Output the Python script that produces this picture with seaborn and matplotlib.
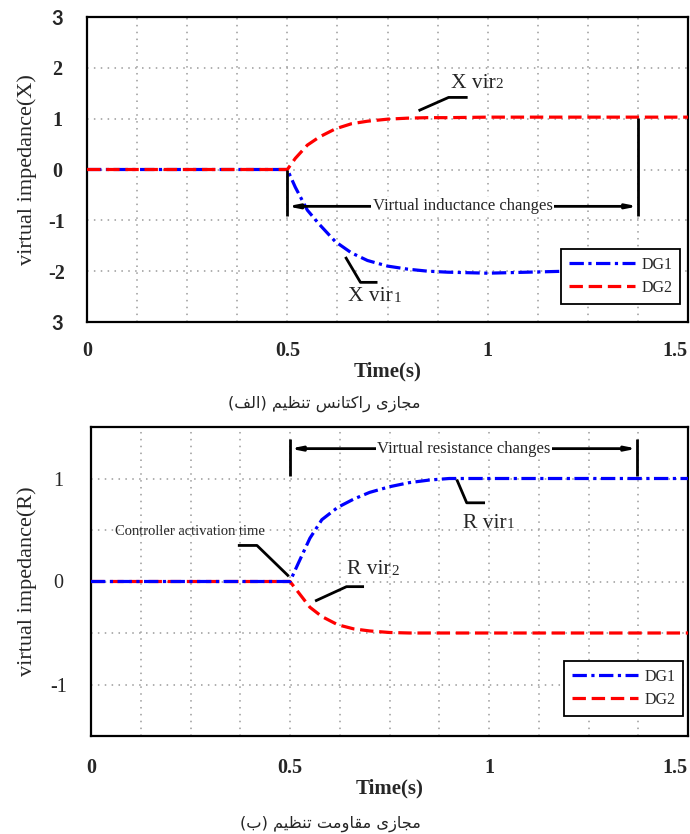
import numpy as np
import matplotlib
matplotlib.use("Agg")
import matplotlib.pyplot as plt
from matplotlib.ticker import MultipleLocator
import pandas as pd
import seaborn as sns

# ---- data -------------------------------------------------------------
time_s = [0.0, 0.5, 0.52, 0.55, 0.58, 0.62, 0.66, 0.70, 0.75, 0.80, 0.85,
          0.90, 1.0, 1.1, 1.2, 1.3, 1.4, 1.5]
# virtual reactance (DG1 trace stops behind the legend)
x_dg1 = [0, 0, -0.35, -0.80, -1.08, -1.42, -1.64, -1.79, -1.90, -1.96, -2.00,
         -2.02, -2.04, -2.02, -2.00, np.nan, np.nan, np.nan]
x_dg2 = [0, 0, 0.22, 0.48, 0.64, 0.80, 0.90, 0.95, 0.99, 1.01, 1.02,
         1.02, 1.03, 1.03, 1.03, 1.03, 1.03, 1.03]
# virtual resistance
r_dg1 = [0, 0, 0.17, 0.42, 0.60, 0.72, 0.80, 0.865, 0.92, 0.96, 0.985,
         1.0, 1.0, 1.0, 1.0, 1.0, 1.0, 1.0]
r_dg2 = [0, 0, -0.10, -0.25, -0.34, -0.42, -0.46, -0.48, -0.495, -0.50, -0.50,
         -0.50, -0.50, -0.50, -0.50, -0.50, -0.50, -0.50]

series_names = ["DG1", "DG2"]
x_ticks = [0, 0.5, 1, 1.5]
x_tick_labels = ["0", "0.5", "1", "1.5"]
x_yticks = [3, 2, 1, 0, -1, -2, -3]
x_ytick_labels = ["3", "2", "1", "0", "-1", "-2", "3"]
r_yticks = [1, 0, -1]
r_ytick_labels = ["1", "0", "-1"]
caption_a = ["(الف)", "تنظیم", "راکتانس", "مجازی"]
caption_b = ["(ب)", "تنظیم", "مقاومت", "مجازی"]

# ---- style ------------------------------------------------------------
sns.set_theme(style="white")
SERIF = ["Liberation Serif", "DejaVu Serif"]
plt.rcParams["font.family"] = SERIF
plt.rcParams["axes.edgecolor"] = "black"
plt.rcParams["axes.linewidth"] = 1.6

BLUE = "#0000FF"
RED = "#FF0000"
LW = 2.3
DASH_DG1 = (0, (4.5, 1.4, 1.0, 1.4))
DASH_DG2 = (0, (4.2, 1.8))
GRID_KW = dict(color="#9a9a9a", linestyle=(0, (1, 3.5)), linewidth=1.1)

# Arabic presentation forms: isolated, final, initial, medial
FORMS = {
    "ا": ("\uFE8D", "\uFE8E", None, None),
    "ب": ("\uFE8F", "\uFE90", "\uFE91", "\uFE92"),
    "ت": ("\uFE95", "\uFE96", "\uFE97", "\uFE98"),
    "ج": ("\uFE9D", "\uFE9E", "\uFE9F", "\uFEA0"),
    "ر": ("\uFEAD", "\uFEAE", None, None),
    "ز": ("\uFEAF", "\uFEB0", None, None),
    "س": ("\uFEB1", "\uFEB2", "\uFEB3", "\uFEB4"),
    "ظ": ("\uFEC5", "\uFEC6", "\uFEC7", "\uFEC8"),
    "ف": ("\uFED1", "\uFED2", "\uFED3", "\uFED4"),
    "ق": ("\uFED5", "\uFED6", "\uFED7", "\uFED8"),
    "ل": ("\uFEDD", "\uFEDE", "\uFEDF", "\uFEE0"),
    "م": ("\uFEE1", "\uFEE2", "\uFEE3", "\uFEE4"),
    "ن": ("\uFEE5", "\uFEE6", "\uFEE7", "\uFEE8"),
    "و": ("\uFEED", "\uFEEE", None, None),
    "ک": ("\uFB8E", "\uFB8F", "\uFB90", "\uFB91"),
    "ی": ("\uFBFC", "\uFBFD", "\uFBFE", "\uFBFF"),
}


def shape_word(word):
    """Join Persian letters and return them in left-to-right drawing order."""
    core = word.strip("()")
    glyphs = []
    for i, ch in enumerate(core):
        iso, fin, ini, med = FORMS[ch]
        joins_prev = i > 0 and FORMS[core[i - 1]][2] is not None
        joins_next = i < len(core) - 1 and ini is not None
        if joins_prev and joins_next:
            g = med
        elif joins_prev:
            g = fin
        elif joins_next:
            g = ini
        else:
            g = iso
        glyphs.append(g)
    shaped = "".join(reversed(glyphs))
    if word.startswith("("):
        shaped = "(" + shaped + ")"
    return shaped


def caption_text(words):
    return " ".join(shape_word(w) for w in words)


# ---- figure -----------------------------------------------------------
W, H = 690, 834
fig = plt.figure(figsize=(W / 100, H / 100), dpi=100)
ax1 = fig.add_axes([87 / W, 1 - 322 / H, 601 / W, 305 / H])
ax2 = fig.add_axes([91 / W, 1 - 736 / H, 597 / W, 309 / H])

df_x = pd.DataFrame({"t": time_s, "DG1": x_dg1, "DG2": x_dg2})
df_r = pd.DataFrame({"t": time_s, "DG1": r_dg1, "DG2": r_dg2})

STYLES = {"DG1": (BLUE, DASH_DG1), "DG2": (RED, DASH_DG2)}


def draw_series(ax, df, order):
    handles = {}
    for z, name in enumerate(order):
        color, dash = STYLES[name]
        sub = df[["t", name]].dropna()
        sns.lineplot(data=sub, x="t", y=name, ax=ax, color=color,
                     linestyle=dash, linewidth=LW, zorder=3 + z,
                     legend=False, sort=False)
        handles[name] = ax.get_lines()[-1]
    return [handles[n] for n in series_names]


h1 = draw_series(ax1, df_x, ["DG1", "DG2"])   # red drawn over blue
h2 = draw_series(ax2, df_r, ["DG2", "DG1"])   # blue drawn over red


def style_axes(ax, handles, yticks, ylabels, ylim, ygrid_step, ylabel, ypad,
               tick_bold, xpad, ylabel_x, xlabel_y, leg_anchor):
    ax.set_xlim(0, 1.5)
    ax.set_ylim(*ylim)
    ax.set_xticks(x_ticks)
    xt = ax.set_xticklabels(x_tick_labels, fontsize=14.5, fontweight="bold")
    xt[-1].set_horizontalalignment("right")
    ax.xaxis.set_minor_locator(MultipleLocator(0.125))
    ax.set_yticks(yticks)
    ax.set_yticklabels(ylabels, fontsize=14.5,
                       fontweight="bold" if tick_bold else "normal",
                       ha="center")
    ax.yaxis.set_minor_locator(MultipleLocator(ygrid_step))
    ax.tick_params(axis="both", which="both", length=0)
    ax.tick_params(axis="x", pad=xpad)
    ax.tick_params(axis="y", pad=ypad)
    ax.grid(True, which="both", **GRID_KW)
    ax.set_axisbelow(True)
    ax.set_xlabel("Time(s)", fontsize=15, fontweight="bold", va="top")
    ax.xaxis.set_label_coords(0.5, xlabel_y)
    ax.set_ylabel(ylabel, fontsize=16, va="center")
    ax.yaxis.set_label_coords(ylabel_x, 0.5)
    for s in ax.spines.values():
        s.set_visible(True)
        s.set_color("black")
        s.set_linewidth(1.6)
    leg = ax.legend(handles=handles, labels=series_names, fontsize=11.5,
                    handlelength=4.1, handletextpad=0.4, labelspacing=0.45,
                    borderpad=0.5, borderaxespad=0, loc="lower right",
                    bbox_to_anchor=leg_anchor, frameon=True, fancybox=False)
    leg.get_frame().set_edgecolor("black")
    leg.get_frame().set_linewidth(1.3)
    leg.get_frame().set_alpha(1)
    leg.set_zorder(10)
    return leg


style_axes(ax1, h1, x_yticks, x_ytick_labels, (-3, 3), 1,
           "virtual impedance(X)", 21.6, True, 13.7, -0.0998, -0.128,
           (0.987, 0.059))
# the outer reactance labels use a sans face
for lbl in ax1.get_yticklabels():
    if lbl.get_text() == "3":
        lbl.set_fontfamily(["Lato", "DejaVu Sans"])

style_axes(ax2, h2, r_yticks, r_ytick_labels, (-1.5, 1.5), 0.5,
           "virtual impedance(R)", 23.4, False, 15.8, -0.107, -0.136,
           (0.992, 0.065))

# ---- annotations ------------------------------------------------------
LINE_KW = dict(color="black", linewidth=2.0, solid_capstyle="butt", zorder=6)


def polyline(ax, pts):
    xs, ys = zip(*pts)
    ax.plot(xs, ys, **LINE_KW)


def vir_label(ax, x, y, letter, digit):
    t = ax.text(x, y, f"{letter} vir", fontsize=15.5, va="baseline",
                ha="left", zorder=7)
    ax.annotate(digit, xy=(1, 0), xycoords=t, xytext=(0.3, 0.95),
                textcoords="offset points", fontsize=11, va="bottom",
                ha="left", zorder=7)


def span_bracket(ax, x0, x1, y_bar, y_lo0, y_hi0, y_lo1, y_hi1, text):
    polyline(ax, [(x0, y_lo0), (x0, y_hi0)])
    polyline(ax, [(x1, y_lo1), (x1, y_hi1)])
    ax.annotate("", xy=(x0, y_bar), xytext=(x1, y_bar),
                arrowprops=dict(arrowstyle="<|-|>,head_length=0.5,head_width=0.1",
                                color="black", lw=2.0, shrinkA=0, shrinkB=0),
                zorder=6)
    ax.text((x0 + x1) / 2, y_bar, text, fontsize=12, ha="center",
            va="center", zorder=7,
            bbox=dict(facecolor="white", edgecolor="none", pad=1.0))


# reactance panel
polyline(ax1, [(0.8275, 1.157), (0.9025, 1.418), (0.95, 1.418)])
vir_label(ax1, 0.9075, 1.61, "X", "2")
polyline(ax1, [(0.645, -1.72), (0.6825, -2.22), (0.725, -2.22)])
vir_label(ax1, 0.6525, -2.59, "X", "1")
span_bracket(ax1, 0.5, 1.375, -0.725, 0.0, -0.92, 1.02, -0.92,
             "Virtual inductance changes")

# resistance panel
ax2.text(0.249, 0.485, "Controller activation time", fontsize=10.5,
         ha="center", va="center", zorder=7)
polyline(ax2, [(0.369, 0.35), (0.417, 0.35), (0.497, 0.05)])
polyline(ax2, [(0.563, -0.19), (0.642, -0.05), (0.686, -0.05)])
vir_label(ax2, 0.643, 0.068, "R", "2")
polyline(ax2, [(0.919, 0.99), (0.944, 0.764), (0.99, 0.764)])
vir_label(ax2, 0.935, 0.524, "R", "1")
span_bracket(ax2, 0.5, 1.372, 1.29, 1.38, 1.02, 1.38, 1.02,
             "Virtual resistance changes")

# ---- captions ---------------------------------------------------------
CAP_FONT = ["DejaVu Sans"]
fig.text(421 / W, 1 - 404 / H, caption_text(caption_a), fontsize=11.7,
         ha="right", va="center", family=CAP_FONT)
fig.text(421 / W, 1 - 824 / H, caption_text(caption_b), fontsize=11.7,
         ha="right", va="center", family=CAP_FONT)

fig.savefig("out.png", dpi=100)
